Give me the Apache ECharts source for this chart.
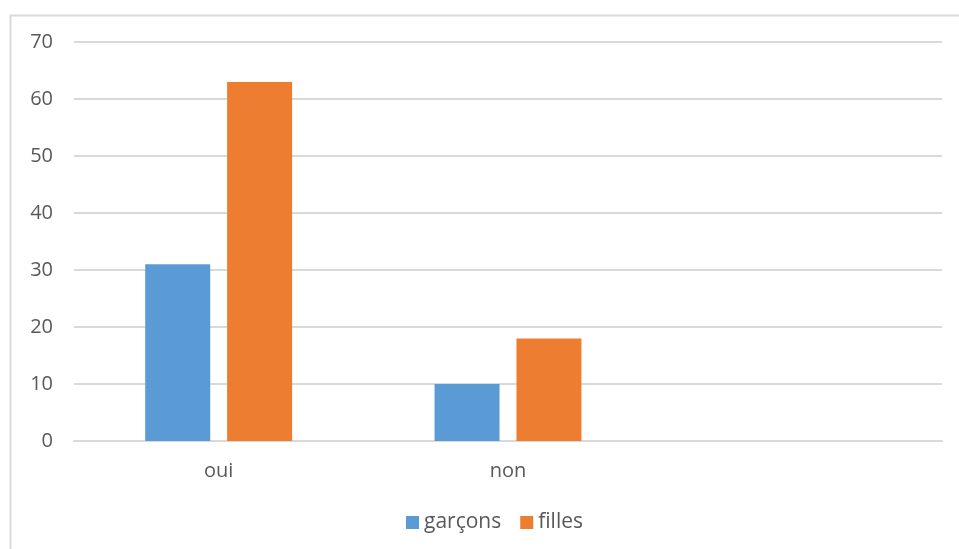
<!DOCTYPE html>
<html>
<head>
<meta charset="utf-8">
<script src="https://cdn.jsdelivr.net/npm/echarts@6/dist/echarts.min.js"></script>
<style>
  html, body { margin: 0; padding: 0; background: #fff; }
  #chart { width: 959px; height: 549px; }
</style>
</head>
<body>
<div id="chart"></div>
<script>
// Réponses "oui" / "non" par groupe (la troisième catégorie est vide)
const categories = ['oui', 'non', ''];
const garcons = [31, 10, null];
const filles = [63, 18, null];
const yTicks = { min: 0, max: 70, interval: 10 };

const FONT = '"Open Sans", "Noto Sans", sans-serif';
const TEXT = '#595959';
const GRID = '#d9d9d9';

const chart = echarts.init(document.getElementById('chart'), null, { renderer: 'canvas' });
chart.setOption({
  animation: false,
  backgroundColor: '#ffffff',
  graphic: [{
    type: 'rect',
    shape: { x: 10.5, y: 15.5, width: 960, height: 540 },
    style: { fill: 'none', stroke: GRID, lineWidth: 2 },
    silent: true
  }],
  grid: { left: 74, right: 17, top: 42, bottom: 108, containLabel: false },
  legend: {
    top: 512,
    left: 406,
    padding: 0,
    icon: 'rect',
    itemWidth: 13,
    itemHeight: 13,
    itemGap: 19,
    textStyle: { color: TEXT, fontFamily: FONT, fontSize: 21 },
    data: ['garçons', 'filles']
  },
  xAxis: {
    type: 'category',
    data: categories,
    axisLine: { lineStyle: { color: GRID, width: 2 } },
    axisTick: { show: false },
    axisLabel: { color: TEXT, fontFamily: FONT, fontSize: 20, margin: 20 }
  },
  yAxis: {
    type: 'value',
    min: yTicks.min,
    max: yTicks.max,
    interval: yTicks.interval,
    axisLine: { show: false },
    axisTick: { show: false },
    splitLine: { lineStyle: { color: GRID, width: 2 } },
    axisLabel: { color: TEXT, fontFamily: FONT, fontSize: 20, margin: 21 }
  },
  series: [
    {
      name: 'garçons',
      type: 'bar',
      data: garcons,
      barWidth: 65,
      barGap: '26%',
      itemStyle: { color: '#5b9bd5' }
    },
    {
      name: 'filles',
      type: 'bar',
      data: filles,
      barWidth: 65,
      barGap: '26%',
      itemStyle: { color: '#ed7d31' }
    }
  ]
});
</script>
</body>
</html>
